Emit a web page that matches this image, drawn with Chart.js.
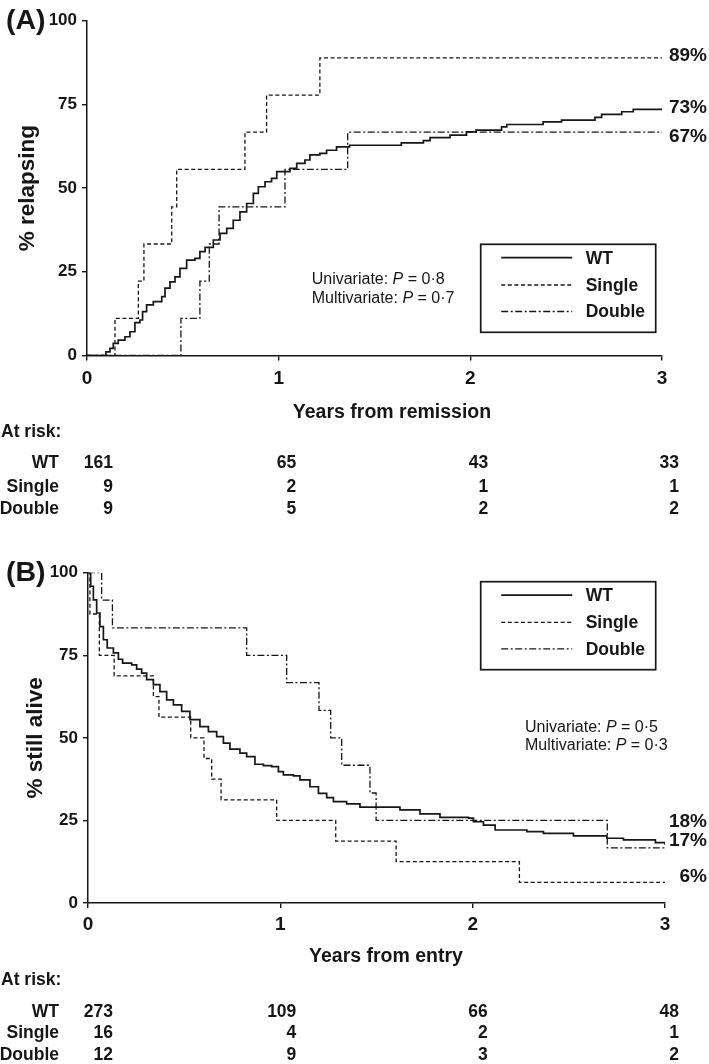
<!DOCTYPE html>
<html>
<head>
<meta charset="utf-8">
<script src="https://cdn.jsdelivr.net/npm/chart.js@4.4.0/dist/chart.umd.min.js"></script>
<style>
  html, body { margin: 0; padding: 0; background: #ffffff; }
  #wrap { position: relative; width: 709px; height: 1064px; overflow: hidden; }
  #cA { position: absolute; left: 0; top: 0; }
  #cB { position: absolute; left: 0; top: 530px; }
</style>
</head>
<body>
<div id="wrap">
  <canvas id="cA" width="709" height="530"></canvas>
  <canvas id="cB" width="709" height="534"></canvas>
</div>
<script>
const FONT = "'Liberation Sans', Arial, Helvetica, sans-serif";
const INK = '#161616';

// ---------- shared ----------
const xTickValues = [0, 1, 2, 3];
const yTickValues = [0, 25, 50, 75, 100];
const seriesLabels = ['WT', 'Single', 'Double'];

// ---------- Panel A: % relapsing (years from remission) ----------
const relapseWT_t = [0, 0.068, 0.099, 0.12, 0.137, 0.163, 0.198, 0.224, 0.25, 0.276, 0.29, 0.311, 0.346, 0.39, 0.407, 0.433, 0.459, 0.485, 0.52, 0.563, 0.589, 0.616, 0.659, 0.694, 0.729, 0.763, 0.798, 0.833, 0.868, 0.894, 0.929, 0.963, 0.99, 1.059, 1.094, 1.137, 1.163, 1.215, 1.25, 1.302, 1.37, 1.64, 1.755, 1.79, 1.894, 1.98, 2.03, 2.163, 2.19, 2.38, 2.476, 2.65, 2.685, 2.79, 2.85, 3.0];
const relapseWT_v = [0, 0, 1.1, 2.1, 3.6, 4.6, 5.6, 7.1, 9.8, 10.6, 13.1, 15.1, 16.1, 17.6, 20.1, 22.0, 23.5, 26.0, 28.5, 29.0, 31.0, 32.3, 34.5, 36.5, 38.0, 40.4, 42.9, 45.4, 48.4, 50.4, 51.9, 52.9, 54.9, 55.9, 57.4, 58.4, 59.9, 60.4, 61.3, 62.3, 62.8, 63.5, 64.2, 65.1, 65.8, 66.8, 67.3, 68.3, 69.0, 69.8, 70.3, 71.1, 72.0, 72.8, 73.5, 73.5];
const relapseSingle_t = [0, 0.146, 0.268, 0.297, 0.442, 0.468, 0.824, 0.937, 1.215, 3.0];
const relapseSingle_v = [0, 11.1, 22.2, 33.3, 44.4, 55.6, 66.7, 77.8, 88.9, 88.9];
const relapseDouble_t = [0, 0.49, 0.589, 0.638, 0.689, 1.033, 1.36, 3.0];
const relapseDouble_v = [0, 11.1, 22.2, 33.3, 44.4, 55.6, 66.7, 66.7];
const atRiskA_WT = [161, 65, 43, 33];
const atRiskA_Single = [9, 2, 1, 1];
const atRiskA_Double = [9, 5, 2, 2];
const endLabelsA = ['73%', '89%', '67%'];
const pValuesA = ['0·8', '0·7'];

// ---------- Panel B: % still alive (years from entry) ----------
const aliveWT_t = [0, 0.014, 0.028, 0.045, 0.062, 0.08, 0.1, 0.132, 0.158, 0.18, 0.227, 0.253, 0.279, 0.305, 0.34, 0.374, 0.409, 0.444, 0.487, 0.53, 0.582, 0.626, 0.669, 0.704, 0.738, 0.79, 0.825, 0.868, 0.912, 0.955, 0.99, 1.016, 1.068, 1.102, 1.154, 1.198, 1.241, 1.276, 1.345, 1.414, 1.622, 1.726, 1.83, 1.978, 2.004, 2.056, 2.117, 2.282, 2.368, 2.524, 2.698, 2.784, 2.95, 3.0];
const aliveWT_v = [100, 95.9, 91.8, 87.8, 83.7, 79.7, 77.2, 75.7, 73.8, 72.6, 72.1, 70.8, 69.6, 67.6, 66.1, 64.0, 61.5, 60.0, 58.0, 55.5, 53.4, 51.9, 50.4, 48.4, 46.6, 45.4, 44.3, 42.0, 41.6, 41.3, 39.8, 38.8, 38.5, 37.3, 35.2, 33.2, 31.9, 30.7, 30.0, 29.0, 28.2, 27.0, 25.9, 25.7, 24.6, 23.6, 22.1, 21.6, 21.1, 20.3, 19.6, 19.1, 18.3, 17.6];
const aliveSingle_t = [0, 0.01, 0.059, 0.136, 0.34, 0.369, 0.534, 0.603, 0.643, 0.692, 0.981, 1.288, 1.602, 2.243, 3.0];
const aliveSingle_v = [100, 87.5, 75, 68.75, 62.5, 56.25, 50, 43.75, 37.5, 31.25, 25, 18.75, 12.5, 6.25, 6.25];
const aliveDouble_t = [0, 0.071, 0.127, 0.825, 1.033, 1.201, 1.262, 1.319, 1.466, 1.498, 2.70, 3.0];
const aliveDouble_v = [100, 91.7, 83.3, 75, 66.7, 58.3, 50, 41.7, 33.3, 25, 16.7, 16.7];
const atRiskB_WT = [273, 109, 66, 48];
const atRiskB_Single = [16, 4, 2, 1];
const atRiskB_Double = [12, 9, 3, 2];
const endLabelsB = ['18%', '6%', '17%'];
const pValuesB = ['0·5', '0·3'];

// ---------- condensed font detection ----------
function hasFont(name) {
  const c = document.createElement('canvas').getContext('2d');
  const s = 'Double Single WT 0123456789 Years';
  c.font = 'bold 40px monospace';
  const a = c.measureText(s).width;
  c.font = `bold 40px '${name}', monospace`;
  const b = c.measureText(s).width;
  c.font = 'bold 40px serif';
  const a2 = c.measureText(s).width;
  c.font = `bold 40px '${name}', serif`;
  const b2 = c.measureText(s).width;
  return Math.abs(a - b) > 1 && Math.abs(a2 - b2) > 1;
}
let NARROW = null;
for (const n of ['Liberation Sans Narrow', 'Arial Narrow', 'Nimbus Sans Narrow', 'Helvetica Condensed']) {
  if (hasFont(n)) { NARROW = `'${n}', ${FONT}`; break; }
}
const TF = NARROW || FONT;
const SZ = NARROW
  ? { yTick: 21, xTick: 22, xTitle: 23.5, table: 20.5, legend: 19.5, end: 22 }
  : { yTick: 17, xTick: 19, xTitle: 19.5, table: 17.5, legend: 17.5, end: 19 };

// ---------- helpers ----------
const pts = (t, v) => t.map((x, i) => ({ x: x, y: v[i] }));
const LINE_STYLES = [
  { width: 1.7, dash: [] },
  { width: 1.3, dash: [4, 2.6] },
  { width: 1.3, dash: [7, 2.5, 2, 2.5] }
];

function drawP(ctx, x, y, lead, val) {
  ctx.textAlign = 'left';
  ctx.textBaseline = 'middle';
  ctx.font = `16px ${FONT}`;
  ctx.fillText(lead, x, y);
  let cx = x + ctx.measureText(lead).width;
  ctx.font = `italic 16px ${FONT}`;
  ctx.fillText('P', cx, y);
  cx += ctx.measureText('P').width;
  ctx.font = `16px ${FONT}`;
  ctx.fillText(' = ' + val, cx, y);
}

const kmExtras = {
  id: 'kmExtras',
  afterDraw(chart, args, o) {
    const ctx = chart.ctx;
    const xs = chart.scales.x, ys = chart.scales.y;
    ctx.save();
    ctx.fillStyle = INK;
    ctx.strokeStyle = INK;

    // panel letter
    ctx.font = `bold 28.5px ${FONT}`;
    ctx.textAlign = 'left';
    ctx.textBaseline = 'middle';
    ctx.fillText(o.letter, 6, o.letterY);

    // x-axis title (drawn slightly right of the axis centre, as in the source)
    ctx.font = `bold ${SZ.xTitle}px ${TF}`;
    ctx.textAlign = 'center';
    ctx.fillText(o.xTitle, o.xTitleX, o.xTitleY);

    // end-of-curve percentages
    ctx.font = `bold ${SZ.end}px ${TF}`;
    ctx.textAlign = 'right';
    chart.data.datasets.forEach((ds, i) => {
      const last = ds.data[ds.data.length - 1];
      ctx.fillText(o.endLabels[i], 707, ys.getPixelForValue(last.y) + o.endOffsets[i]);
    });

    // p-values
    drawP(ctx, o.pX, o.pY[0], 'Univariate: ', o.pValues[0]);
    drawP(ctx, o.pX, o.pY[1], 'Multivariate: ', o.pValues[1]);

    // legend box
    const L = o.legend;
    ctx.lineWidth = 1.7;
    ctx.setLineDash([]);
    ctx.strokeRect(L.x, L.y, 175, 88);
    const rowOff = [13.4, 40.7, 67.2];
    chart.data.datasets.forEach((ds, i) => {
      const y = L.y + rowOff[i];
      ctx.beginPath();
      ctx.lineWidth = ds.borderWidth;
      ctx.setLineDash(ds.borderDash || []);
      ctx.moveTo(L.x + 20.5, y);
      ctx.lineTo(L.x + 91.5, y);
      ctx.stroke();
      ctx.setLineDash([]);
      ctx.font = `bold ${SZ.legend}px ${TF}`;
      ctx.textAlign = 'left';
      ctx.fillText(ds.label, L.x + 105, y + 1);
    });

    // at-risk table
    ctx.font = `bold ${SZ.table}px ${TF}`;
    ctx.textAlign = 'left';
    ctx.fillText('At risk:', 1, o.riskTitleY);
    o.riskRows.forEach((row, r) => {
      const y = o.riskRowsY[r];
      ctx.textAlign = 'right';
      ctx.fillText(seriesLabels[r], 59, y);
      row.forEach((n, c) => {
        ctx.fillText(String(n), xs.getPixelForValue(xTickValues[c]) + o.colOffsets[c], y);
      });
    });
    ctx.restore();
  }
};

function makeChart(canvas, c) {
  const series = [c.wt, c.single, c.double];
  return new Chart(canvas, {
    type: 'line',
    data: {
      datasets: series.map((s, i) => ({
        label: seriesLabels[i],
        data: s,
        stepped: 'before',
        borderColor: INK,
        borderWidth: LINE_STYLES[i].width,
        borderDash: LINE_STYLES[i].dash,
        pointRadius: 0,
        fill: false,
        tension: 0
      }))
    },
    options: {
      responsive: false,
      animation: false,
      events: [],
      layout: { padding: { left: 0, right: c.padRight, top: c.padTop, bottom: c.padBottom } },
      plugins: {
        legend: { display: false },
        tooltip: { enabled: false },
        kmExtras: c.extras
      },
      scales: {
        x: {
          type: 'linear',
          min: 0, max: 3,
          afterBuildTicks: s => { s.ticks = xTickValues.map(v => ({ value: v })); },
          afterFit: s => { s.height = c.xAxisHeight; },
          grid: { drawOnChartArea: false, drawTicks: true, tickLength: 5, color: INK, lineWidth: 1.4 },
          border: { display: true, color: INK, width: 1.5 },
          ticks: { color: INK, font: { family: TF, size: SZ.xTick, weight: 'bold' }, padding: c.xTickPad, maxRotation: 0, autoSkip: false },
          title: { display: false }
        },
        y: {
          type: 'linear',
          min: 0, max: 100,
          afterBuildTicks: s => { s.ticks = yTickValues.map(v => ({ value: v })); },
          afterFit: s => { s.width = c.yAxisWidth; },
          grid: { drawOnChartArea: false, drawTicks: true, tickLength: 5, color: INK, lineWidth: 1.4 },
          border: { display: true, color: INK, width: 1.5 },
          ticks: { color: INK, font: { family: TF, size: SZ.yTick, weight: 'bold' }, padding: 5 },
          title: { display: true, text: c.yTitle, color: INK, font: { family: FONT, size: 22.5, weight: 'bold' }, padding: { top: c.yTitlePad, bottom: 0 } }
        }
      }
    },
    plugins: [kmExtras]
  });
}

makeChart(document.getElementById('cA'), {
  wt: pts(relapseWT_t, relapseWT_v),
  single: pts(relapseSingle_t, relapseSingle_v),
  double: pts(relapseDouble_t, relapseDouble_v),
  padTop: 20.7, padRight: 47, padBottom: 106.3,
  yAxisWidth: 87, xAxisHeight: 68.2, xTickPad: 7, yTitlePad: 14,
  yTitle: '% relapsing',
  extras: {
    letter: '(A)', letterY: 21,
    xTitle: 'Years from remission', xTitleX: 392, xTitleY: 413,
    endLabels: endLabelsA, endOffsets: [-1.3, -1.7, 4.9],
    pValues: pValuesA, pX: 311.7, pY: [280, 298.3],
    legend: { x: 480.7, y: 244.3 },
    riskTitleY: 432,
    riskRows: [atRiskA_WT, atRiskA_Single, atRiskA_Double],
    riskRowsY: [463, 487, 509],
    colOffsets: [26, 17.5, 18, 17]
  }
});

makeChart(document.getElementById('cB'), {
  wt: pts(aliveWT_t, aliveWT_v),
  single: pts(aliveSingle_t, aliveSingle_v),
  double: pts(aliveDouble_t, aliveDouble_v),
  padTop: 42.7, padRight: 44, padBottom: 95.3,
  yAxisWidth: 88, xAxisHeight: 65.7, xTickPad: 5.5, yTitlePad: 22,
  yTitle: '% still alive',
  extras: {
    letter: '(B)', letterY: 43,
    xTitle: 'Years from entry', xTitleX: 386, xTitleY: 427,
    endLabels: endLabelsB, endOffsets: [-23, -5.7, -7],
    pValues: pValuesB, pX: 525, pY: [197.3, 216],
    legend: { x: 480.7, y: 51.7 },
    riskTitleY: 450,
    riskRows: [atRiskB_WT, atRiskB_Single, atRiskB_Double],
    riskRowsY: [482, 503, 525],
    colOffsets: [25, 16, 15, 14]
  }
});
</script>
</body>
</html>
